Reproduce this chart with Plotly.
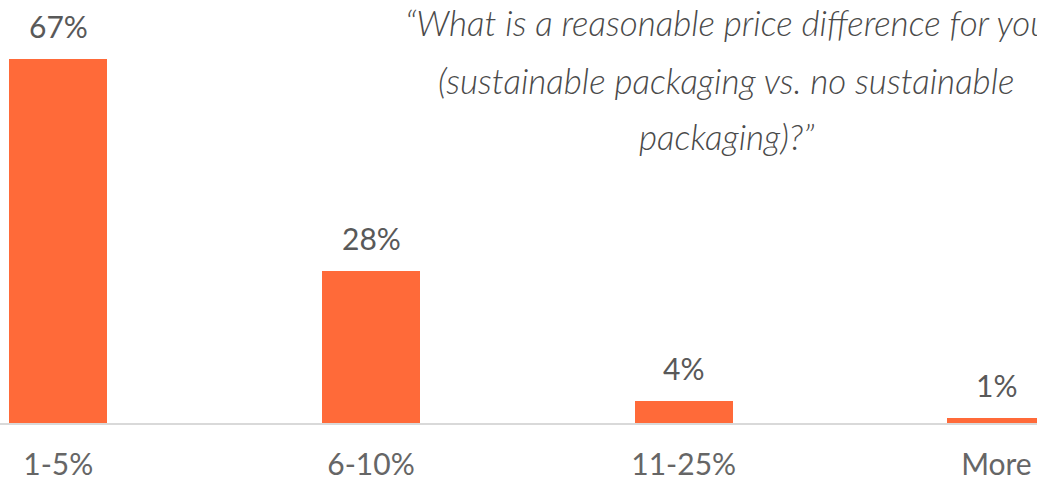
import plotly.graph_objects as go

# Survey answers: acceptable price premium for sustainable packaging
categories = ["1-5%", "6-10%", "11-25%", "More"]
shares = [67, 28, 4, 1]
value_labels = ["67%", "28%", "4%", "1%"]
title_lines = [
    "\u201cWhat is a reasonable price difference for you",
    "(sustainable packaging vs. no sustainable",
    "packaging)?\u201d",
]

BAR_COLOR = "#FF6A39"
TEXT_COLOR = "#595959"
TITLE_COLOR = "#4A4A4A"
TICK_COLOR = "#666666"
FONT = "Lato, 'Open Sans', sans-serif"

W, H = 1037, 480
PLOT_H = 423  # pixel height of the plotting area

fig = go.Figure()
fig.add_trace(go.Bar(
    x=list(range(len(categories))),
    y=shares,
    width=0.313,
    marker=dict(color=BAR_COLOR, line=dict(width=0)),
    hoverinfo="skip",
))

# value labels above each bar
for i, (v, lab) in enumerate(zip(shares, value_labels)):
    fig.add_annotation(
        x=i, y=v, xref="x", yref="y", text=lab, showarrow=False,
        yanchor="bottom", yshift=13,
        font=dict(family=FONT, size=30, color=TEXT_COLOR),
    )

# three-line italic question, centred to the right
title_centres = [22, 80, 136]
for line, py in zip(title_lines, title_centres):
    fig.add_annotation(
        x=726 / W, y=1 - py / PLOT_H, xref="paper", yref="paper",
        text=line, showarrow=False,
        xanchor="center", yanchor="middle",
        font=dict(family=FONT, size=35, color=TITLE_COLOR,
                  style="italic", weight=300),
    )

fig.update_layout(
    width=W, height=H,
    margin=dict(l=0, r=0, t=0, b=H - PLOT_H, autoexpand=False),
    paper_bgcolor="white", plot_bgcolor="white",
    showlegend=False,
    bargap=0,
    xaxis=dict(
        range=[-58.3 / 312.7, (W - 58.3) / 312.7],
        tickmode="array",
        tickvals=list(range(len(categories))),
        ticktext=categories,
        showgrid=False, zeroline=False,
        showline=True, linecolor="#D9D9D9", linewidth=2,
        ticks="outside", ticklen=14, tickcolor="rgba(0,0,0,0)",
        tickfont=dict(family=FONT, size=30, color=TICK_COLOR),
        automargin=False,
        fixedrange=True,
    ),
    yaxis=dict(
        range=[0, PLOT_H / 5.43],
        visible=False, showgrid=False, zeroline=False,
        automargin=False,
        fixedrange=True,
    ),
)

fig.write_html("out.html", config={"displayModeBar": False})
